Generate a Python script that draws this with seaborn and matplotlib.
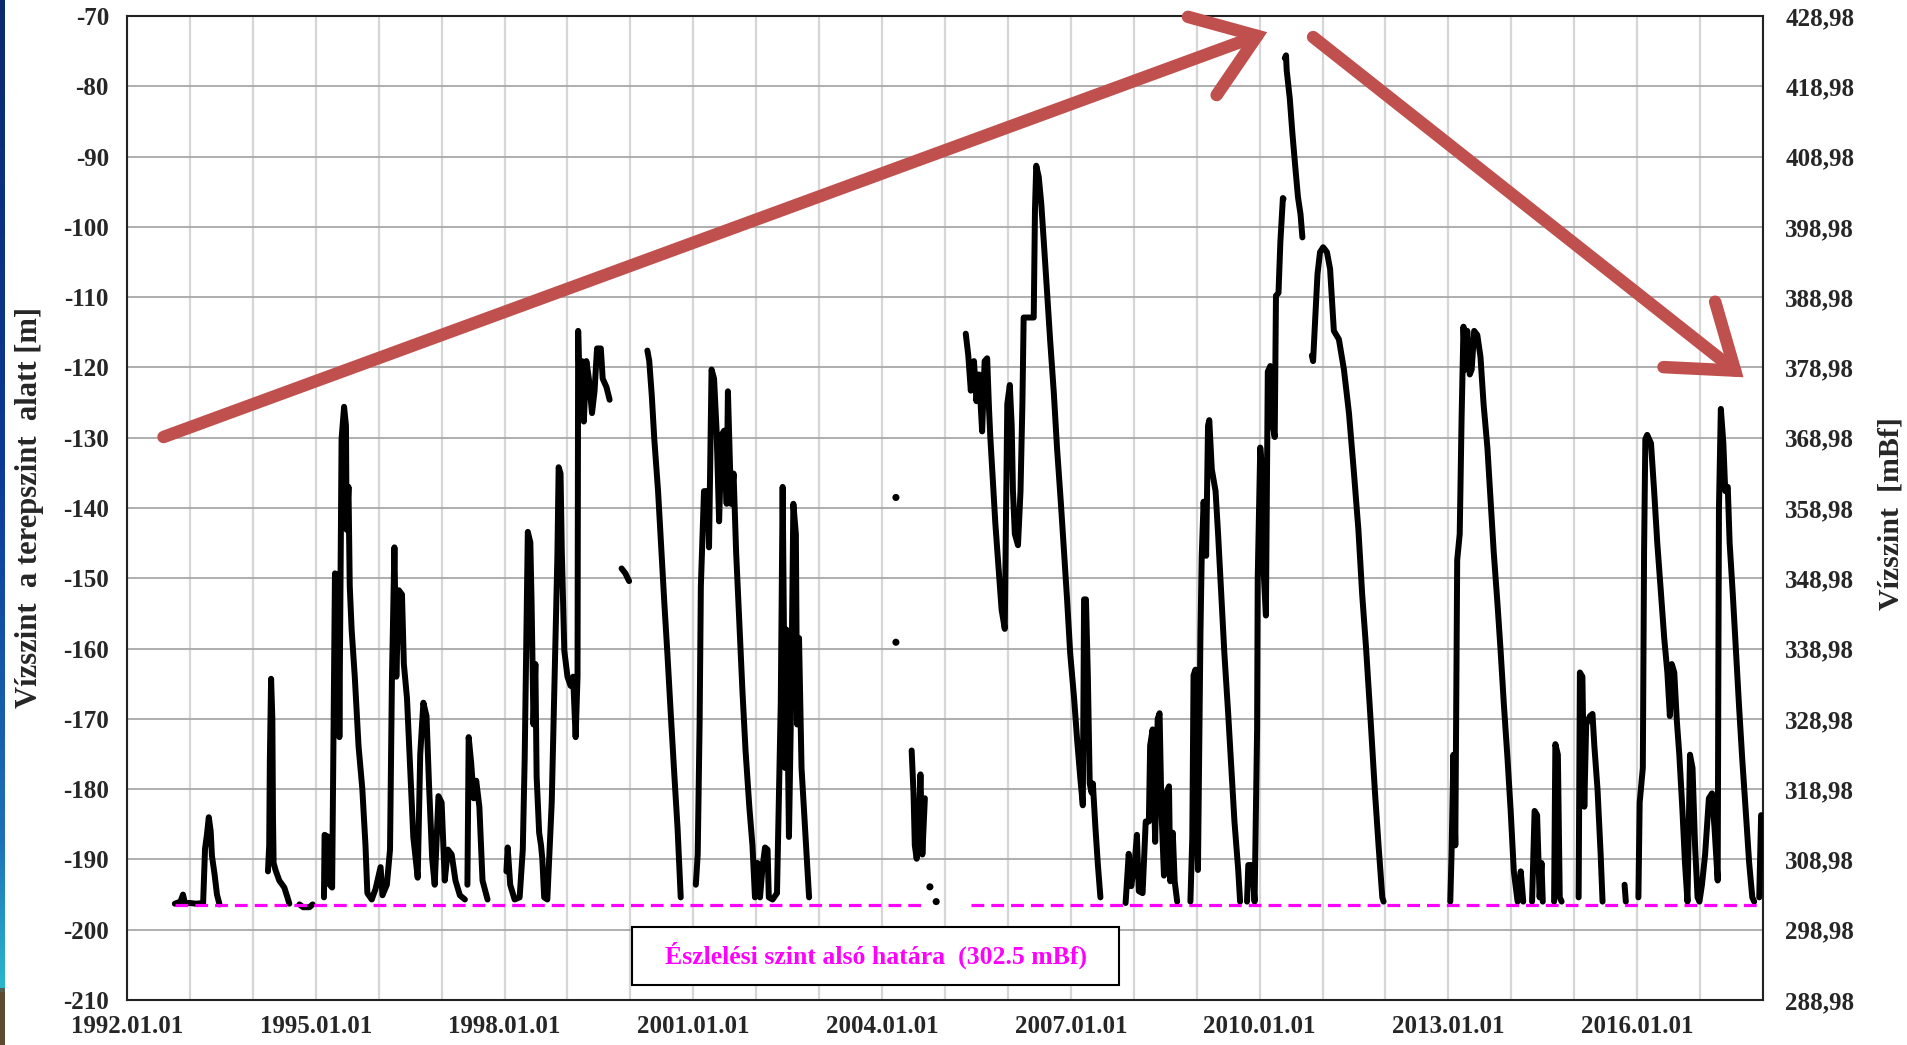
import numpy as np
import pandas as pd
import matplotlib
matplotlib.use("Agg")
import matplotlib.pyplot as plt
from matplotlib.patches import Rectangle, FancyArrowPatch, ArrowStyle
from matplotlib.colors import LinearSegmentedColormap
import seaborn as sns

nan = np.nan

# ---------------------------------------------------------------------------
# Water level below ground [m] against time (decimal years); nan = data gap
# ---------------------------------------------------------------------------
t_1992 = [1992.76, 1992.85, 1992.89, 1992.92, 1993.00, 1993.10, 1993.21, 1993.24,
          1993.27, 1993.30, 1993.33, 1993.35, 1993.39, 1993.43, 1993.47, nan,
          1994.24, 1994.26, 1994.27, 1994.29, 1994.31, 1994.32, 1994.33, 1994.36,
          1994.42, 1994.50, 1994.55, 1994.58, nan,
          1994.74, 1994.80, 1994.90, 1994.95]
h_1992 = [-196.3, -196.0, -195.0, -196.2, -196.2, -196.3, -196.2, -188.5,
          -186.5, -184.0, -186.0, -189.5, -192.0, -195.0, -196.4, nan,
          -191.7, -188.0, -176.0, -164.3, -170.0, -184.0, -190.5, -191.5,
          -193.0, -194.0, -195.4, -196.3, nan,
          -196.4, -196.8, -196.8, -196.4]

t_1995 = [1995.13, 1995.14, 1995.20, 1995.22, 1995.26, 1995.305, 1995.36, 1995.375,
          1995.41, 1995.45, 1995.48, 1995.49, 1995.52, 1995.54, 1995.57, 1995.62,
          1995.68, 1995.74, 1995.79, 1995.82, 1995.89, 1995.95, 1996.03, 1996.06,
          1996.13, 1996.18, 1996.21, 1996.25, 1996.28, 1996.32, 1996.37, 1996.40,
          1996.45, 1996.50, 1996.55, 1996.62, 1996.66, 1996.71, 1996.76, 1996.80,
          1996.85, 1996.89, 1996.95, 1997.00, 1997.05, 1997.10, 1997.16, 1997.22,
          1997.29, 1997.37, nan,
          1997.41, 1997.43, 1997.47, 1997.51, 1997.55, 1997.60, 1997.65, 1997.73]
h_1995 = [-195.4, -186.5, -186.8, -193.6, -194.0, -149.3, -149.6, -172.6,
          -130.2, -125.6, -128.3, -143.1, -137.0, -151.1, -157.3, -164.0,
          -173.9, -180.0, -188.0, -194.8, -195.7, -194.2, -191.1, -195.1,
          -193.6, -188.6, -164.6, -145.6, -164.0, -151.7, -152.3, -162.2,
          -167.1, -177.0, -186.8, -192.6, -175.1, -167.7, -169.6, -179.4,
          -189.9, -193.6, -181.0, -181.9, -193.0, -188.6, -189.3, -193.0,
          -195.1, -195.7, nan,
          -193.6, -172.6, -176.3, -181.3, -178.8, -182.5, -193.0, -195.7]

t_1998 = [1998.03, 1998.05, 1998.09, 1998.16, 1998.24, 1998.29, 1998.32, 1998.37,
          1998.41, 1998.43, 1998.46, 1998.49, 1998.51, 1998.55, 1998.58, 1998.60,
          1998.63, 1998.68, 1998.75, 1998.81, 1998.84, 1998.86, 1998.89, 1998.91,
          1998.95, 1999.00, 1999.05, 1999.09, 1999.13, 1999.16, 1999.17, 1999.20,
          1999.23, 1999.26, 1999.30, 1999.34, 1999.39, 1999.43, 1999.47, 1999.53,
          1999.56, 1999.62, 1999.67, nan,
          1999.86, 1999.92, 1999.98, nan,
          2000.27, 2000.30, 2000.34, 2000.38, 2000.44, 2000.49, 2000.54, 2000.59,
          2000.64, 2000.70, 2000.75, 2000.80]
h_1998 = [-191.7, -188.3, -193.6, -195.7, -195.4, -188.6, -175.7, -143.4,
          -144.9, -153.6, -170.8, -162.2, -178.2, -186.2, -188.0, -189.9,
          -195.4, -195.7, -181.9, -158.5, -146.8, -134.2, -135.1, -146.2,
          -160.3, -164.0, -165.3, -164.0, -172.6, -164.0, -114.8, -125.3,
          -119.1, -127.7, -119.1, -121.6, -126.5, -123.4, -117.3, -117.3,
          -121.6, -122.8, -124.6, nan,
          -148.6, -149.3, -150.4, nan,
          -117.6, -119.1, -124.0, -130.2, -137.6, -145.6, -153.6, -161.0,
          -169.0, -178.2, -185.6, -195.4]

t_2001 = [2001.04, 2001.07, 2001.10, 2001.12, 2001.17, 2001.23, 2001.25, 2001.29,
          2001.33, 2001.37, 2001.41, 2001.45, 2001.49, 2001.53, 2001.55, 2001.60,
          2001.64, 2001.68, 2001.73, 2001.78, 2001.83, 2001.89, 2001.94, 2001.98,
          2002.02, 2002.06, 2002.10, 2002.14, 2002.18, 2002.20, 2002.26, 2002.33,
          2002.39, 2002.42, 2002.46, 2002.48, 2002.52, 2002.56, 2002.59, 2002.63,
          2002.65, 2002.68, 2002.72, 2002.76, 2002.80, 2002.84, nan,
          2004.47, 2004.50, 2004.52, 2004.55, 2004.58, 2004.61, 2004.64, 2004.68]
h_2001 = [-193.6, -189.3, -170.8, -151.1, -137.6, -137.6, -145.6, -120.3,
          -121.6, -129.0, -141.9, -129.6, -129.0, -139.4, -123.4, -139.4,
          -135.1, -146.2, -156.0, -165.9, -174.5, -182.5, -188.0, -195.4,
          -190.5, -195.4, -191.1, -188.3, -188.6, -195.4, -195.7, -194.8,
          -167.7, -137.0, -177.0, -157.3, -186.8, -164.6, -139.4, -143.7,
          -170.8, -158.5, -177.0, -183.1, -189.3, -195.4, nan,
          -174.5, -180.6, -188.0, -189.9, -186.2, -177.9, -189.3, -181.3]

# isolated single readings
dot_t = [2004.22, 2004.22, 2004.76, 2004.86]
dot_h = [-138.5, -159.1, -193.9, -196.0]

t_2005 = [2005.33, 2005.37, 2005.41, 2005.46, 2005.50, 2005.54, 2005.59, 2005.63,
          2005.67, 2005.70, 2005.72, 2005.76, 2005.80, 2005.85, 2005.90, 2005.95,
          2005.97, 2005.99, 2006.03, 2006.06, 2006.08, 2006.11, 2006.16, 2006.20,
          2006.23, 2006.25, 2006.33, 2006.41, 2006.43, 2006.45, 2006.49, 2006.53,
          2006.57, 2006.62, 2006.67, 2006.73, 2006.78, 2006.84, 2006.89, 2006.94,
          2006.99, 2007.05, 2007.10, 2007.15, 2007.19, 2007.21, 2007.24, 2007.27,
          2007.30, 2007.33, 2007.35, 2007.39, 2007.43, 2007.47, nan,
          2007.87, 2007.92, 2007.96, 2008.02, 2008.05, 2008.08, 2008.14, 2008.19,
          2008.24, 2008.26, 2008.30, 2008.34, 2008.38, 2008.41, 2008.44, 2008.48,
          2008.51, 2008.56, 2008.58, 2008.62, 2008.65, 2008.69]
h_2005 = [-115.2, -118.3, -123.3, -119.1, -124.8, -121.0, -129.1, -119.1,
          -118.7, -126.0, -129.9, -136.0, -142.2, -148.4, -154.5, -157.2,
          -140.7, -125.2, -122.5, -128.3, -137.6, -143.7, -145.3, -137.6,
          -125.2, -112.9, -112.9, -112.9, -97.5, -91.3, -92.9, -96.7,
          -102.1, -109.0, -116.0, -123.7, -131.4, -139.1, -146.0, -153.0,
          -160.7, -166.9, -173.0, -178.4, -182.3, -153.0, -153.0, -163.8,
          -179.2, -180.5, -179.2, -185.4, -190.8, -195.4, nan,
          -196.2, -189.2, -193.8, -189.9, -186.5, -194.5, -194.8, -184.6,
          -184.6, -173.8, -171.5, -187.5, -170.0, -169.2, -183.0, -192.3,
          -180.7, -179.6, -193.1, -186.2, -193.1, -196.0]

t_2009 = [2008.90, 2008.93, 2008.95, 2008.98, 2009.02, 2009.06, 2009.08, 2009.11,
          2009.15, 2009.18, 2009.20, 2009.24, 2009.30, 2009.34, 2009.39, 2009.44,
          2009.50, 2009.55, 2009.60, 2009.66, 2009.69, nan,
          2009.80, 2009.82, 2009.88, 2009.92, 2009.96, 2009.97, 2010.01, 2010.04,
          2010.06, 2010.10, 2010.13, 2010.17, 2010.21, 2010.24, 2010.26, 2010.30,
          2010.33, 2010.37, 2010.38, nan,
          2010.40, 2010.42, 2010.43, 2010.48, 2010.52, 2010.57, 2010.61, 2010.65,
          2010.68, nan,
          2010.83, 2010.85, 2010.88, 2010.92, 2010.96, 2011.01, 2011.07, 2011.12,
          2011.18, 2011.26, 2011.34, 2011.42, 2011.50, 2011.57, 2011.63, 2011.69,
          2011.76, 2011.83, 2011.89, 2011.95, 2011.97]
h_2009 = [-196.0, -186.9, -163.8, -163.0, -191.5, -157.6, -146.8, -139.1,
          -146.8, -128.3, -127.5, -134.5, -137.6, -143.7, -152.2, -160.7,
          -169.2, -176.9, -184.6, -191.5, -196.0, nan,
          -196.0, -190.8, -190.8, -196.0, -171.5, -149.9, -131.4, -134.5,
          -148.4, -155.3, -120.6, -119.8, -128.3, -129.9, -109.8, -109.4,
          -102.1, -95.9, -96.0, nan,
          -76.0, -75.6, -77.7, -81.8, -86.6, -91.8, -95.8, -98.2,
          -101.5, nan,
          -118.3, -119.1, -113.7, -106.7, -103.6, -102.9, -103.6, -106.0,
          -114.8, -116.0, -120.3, -126.5, -135.1, -143.1, -152.3, -159.7,
          -169.6, -180.0, -188.0, -195.4, -196.0]

t_2013 = [2013.03, 2013.05, 2013.08, 2013.11, 2013.14, 2013.18, 2013.21, 2013.24,
          2013.27, 2013.30, 2013.34, 2013.37, 2013.41, 2013.46, 2013.51, 2013.56,
          2013.62, 2013.67, 2013.72, 2013.78, 2013.83, 2013.88, 2013.94, 2013.99,
          2014.04, 2014.10, 2014.15, 2014.19, nan,
          2014.33, 2014.37, 2014.41, 2014.45, 2014.48, 2014.50, nan,
          2014.68, 2014.70, 2014.74, 2014.77, 2014.80, nan,
          2015.07, 2015.09, 2015.13, 2015.16, 2015.19, 2015.25, 2015.29, 2015.32,
          2015.37, 2015.42, 2015.45, nan,
          2015.80, 2015.82]
h_2013 = [-196.0, -189.3, -175.1, -188.0, -147.4, -143.7, -127.1, -114.2,
          -120.3, -114.8, -121.0, -120.3, -114.8, -115.4, -118.5, -125.3,
          -131.4, -138.8, -146.2, -153.6, -160.3, -167.7, -175.7, -183.1,
          -191.7, -196.0, -191.7, -196.0, nan,
          -196.0, -183.1, -183.7, -195.4, -190.5, -196.0, nan,
          -196.0, -173.6, -175.1, -195.4, -196.0, nan,
          -195.4, -163.4, -164.0, -182.5, -170.8, -169.6, -169.3, -173.9,
          -180.0, -189.3, -196.0, nan,
          -193.6, -196.0]

t_2016 = [2016.02, 2016.04, 2016.09, 2016.11, 2016.13, 2016.16, 2016.22, 2016.27,
          2016.32, 2016.38, 2016.43, 2016.48, 2016.52, 2016.55, 2016.59, 2016.63,
          2016.67, 2016.72, 2016.76, 2016.80, 2016.84, 2016.88, 2016.92, 2016.96,
          2016.99, 2017.03, 2017.08, 2017.14, 2017.19, 2017.23, 2017.28, 2017.29,
          2017.30, 2017.33, 2017.37, 2017.40, 2017.44, 2017.47, 2017.52, 2017.57,
          2017.62, 2017.67, 2017.73, 2017.78, 2017.83, 2017.86, nan,
          2017.94, 2017.97]
h_2016 = [-195.4, -181.9, -177.0, -146.2, -130.2, -129.6, -130.8, -137.6,
          -145.0, -152.3, -158.5, -163.4, -169.6, -162.2, -163.4, -170.2,
          -175.1, -183.1, -190.5, -196.0, -175.1, -177.0, -188.0, -195.4,
          -196.0, -193.6, -189.3, -181.3, -180.6, -185.6, -193.0, -164.6,
          -140.0, -125.9, -130.8, -137.6, -137.0, -145.0, -152.3, -160.3,
          -168.3, -175.7, -183.7, -190.5, -195.4, -196.0, nan,
          -195.4, -183.7]

# detection limit (mBf) and ground level of the well (mBf)
limit_mbf = 302.5
ground_mbf = 498.98
limit_t = [1992.77, 2004.63, nan, 2005.41, 2018.0]

# trend arrows: (start year, start depth) -> (end year, end depth)
trend_arrows = [((1992.58, -129.9), (2010.12, -72.3)),
                ((2010.85, -73.0), (2017.69, -121.4))]

year_ticks = list(range(1992, 2019))
labelled_years = list(range(1992, 2017, 3))
depth_ticks = list(range(-210, -69, 10))


def to_frame(pairs):
    rows, seg = [], 0
    for t, h in pairs:
        for ti, hi in zip(t, h):
            if np.isnan(ti):
                seg += 1
                continue
            rows.append((seg, ti, hi))
        seg += 1
    return pd.DataFrame(rows, columns=["seg", "year", "depth"])


levels = to_frame([(t_1992, h_1992), (t_1995, h_1995), (t_1998, h_1998),
                   (t_2001, h_2001), (t_2005, h_2005), (t_2009, h_2009),
                   (t_2013, h_2013), (t_2016, h_2016)])
limit_depth = limit_mbf - ground_mbf
limit_df = to_frame([(limit_t, [limit_depth if not np.isnan(v) else nan for v in limit_t])])

sns.set_style("white")
plt.rcParams["font.family"] = ["Liberation Serif", "DejaVu Serif"]
plt.rcParams["font.weight"] = "bold"

W, H = 1907, 1045
fig = plt.figure(figsize=(W / 100, H / 100), dpi=100)
ax = fig.add_axes([127 / W, 1 - 1000 / H, (1763 - 127) / W, (1000 - 16) / H])

# measured levels
sns.lineplot(data=levels, x="year", y="depth", units="seg", estimator=None,
             sort=False, color="black", lw=4.3, ax=ax, legend=False,
             solid_joinstyle="round", solid_capstyle="round", zorder=3)
sns.scatterplot(x=dot_t, y=dot_h, color="black", s=26, edgecolor="none",
                ax=ax, zorder=3, legend=False)

# detection limit
sns.lineplot(data=limit_df, x="year", y="depth", units="seg", estimator=None,
             sort=False, color="#FF00FF", lw=2.3, linestyle=(0, (4, 2.2)),
             ax=ax, legend=False, zorder=4)

ax.set_xlim(1992, 2018)
ax.set_ylim(-210, -70)
ax.set_xticks(year_ticks)
ax.set_xticklabels([f"{y}.01.01" if y in labelled_years else "" for y in year_ticks])
ax.set_yticks(depth_ticks)
ax.set_yticklabels([str(v) for v in depth_ticks])
ax.tick_params(axis="x", length=0, pad=11, labelsize=18)
ax.tick_params(axis="y", length=0, pad=13, labelsize=18)
ax.set_xlabel("")
ax.set_ylabel("")
ax.xaxis.grid(True, color="#d6d6d6", lw=1.6)
ax.yaxis.grid(True, color="#a8a8a8", lw=1.3)
ax.set_axisbelow(True)
for sp in ax.spines.values():
    sp.set_color("#222222")
    sp.set_linewidth(1.5)

# right-hand axis in mBf
ax2 = ax.twinx()
ax2.set_ylim(-210 + ground_mbf, -70 + ground_mbf)
mbf_ticks = [round(v + ground_mbf, 2) for v in depth_ticks]
ax2.set_yticks(mbf_ticks)
ax2.set_yticklabels([f"{v:.2f}".replace(".", ",") for v in mbf_ticks])
ax2.tick_params(axis="y", length=0, pad=16, labelsize=18)
ax2.grid(False)
for sp in ax2.spines.values():
    sp.set_visible(False)

# trend arrows
for (x0, y0), (x1, y1) in trend_arrows:
    arr = FancyArrowPatch((x0, y0), (x1, y1),
                          arrowstyle=ArrowStyle("->", head_length=42, head_width=30),
                          mutation_scale=1, shrinkA=0, shrinkB=0,
                          lw=9, color="#C0504D", capstyle="round",
                          joinstyle="miter", clip_on=False, zorder=6)
    ax.add_patch(arr)

# detection limit note
ax.add_patch(Rectangle((2000.03, -207.8), 7.74, 8.2, facecolor="white",
                       edgecolor="black", lw=1.5, zorder=5))
ax.text(2003.9, -203.7, "Észlelési szint alsó határa  (302.5 mBf)",
        color="#FF00FF", fontsize=18.5, fontweight="bold",
        ha="center", va="center", zorder=6)

# axis titles
fig.text(30 / W, 1 - 508 / H, "Vízszint  a terepszint  alatt [m]", rotation=90,
         ha="center", va="center", fontsize=22, fontweight="bold")
fig.text(1891 / W, 1 - 514 / H, "Vízszint  [mBf]", rotation=90,
         ha="center", va="center", fontsize=21.5, fontweight="bold")

# slide edge strip
edge = fig.add_axes([0, 0, 5 / W, 1])
edge_cmap = LinearSegmentedColormap.from_list(
    "edge", [(0.0, "#5c4a30"), (0.05, "#5c4a30"), (0.055, "#2bb6cc"),
             (0.2, "#1d6fb8"), (0.55, "#0d3a96"), (1.0, "#0b2a6e")])
edge.imshow(np.linspace(0, 1, 256)[:, None], aspect="auto", cmap=edge_cmap,
            origin="lower", extent=(0, 1, 0, 1))
edge.axis("off")

fig.savefig("out.png", dpi=100)
